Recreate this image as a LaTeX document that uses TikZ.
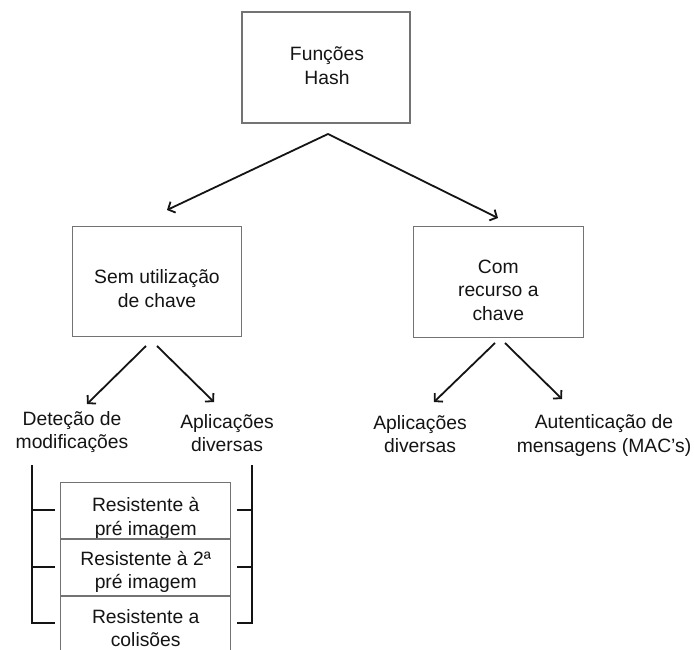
\documentclass[tikz,border=0pt]{standalone}
\usepackage{fontspec}
\setmainfont{Liberation Sans}
\usetikzlibrary{arrows.meta}
\begin{document}
\begin{tikzpicture}[x=1pt,y=-1pt,
  txt/.style={align=center, inner sep=0pt, text=black!92,
    font=\fontsize{19.3}{23.5}\selectfont},
  box/.style={draw=black!55, line width=1.1pt, inner sep=0pt},
  arr/.style={line width=1.8pt, draw=black!92,
    -{Straight Barb[length=5.5pt,width=12pt,line width=1.8pt]}},
  brk/.style={line width=1.8pt, draw=black!92}]
\clip (0,0) rectangle (694,650);
\fill[white] (0,0) rectangle (694,650);

% main boxes and their captions
\node[box, minimum width=168pt, minimum height=111pt] (hash) at (326,67.5) {};
\node[txt] (hashtxt) at (327,65.5) {Funções\\Hash};
\node[box, minimum width=169.4pt, minimum height=110pt] (sem) at (157,281.7) {};
\node[txt] (semtxt) at (157,288.7) {Sem utilização\\de chave};
\node[box, minimum width=170pt, minimum height=111pt] (com) at (498.3,282.2) {};
\node[txt] (comtxt) at (498.3,290.2) {Com\\recurso a\\chave};

% first split
\coordinate (split) at (328,134);
\coordinate (semtip) at (167,210);
\coordinate (comtip) at (498,218);
\draw[arr] (split) -- (semtip);
\draw[arr] (split) -- (comtip);

% leaves
\node[txt] (det)  at (72,432)  {Deteção de\\modificações};
\node[txt] (aplA) at (227,433) {Aplicações\\diversas};
\node[txt] (aplB) at (420,434) {Aplicações\\diversas};
\node[txt] (aut)  at (604,435.5) {Autenticação de\\mensagens (MAC’s)};

% second level splits
\coordinate (semL) at (146,346);
\coordinate (semR) at (157,346);
\coordinate (comL) at (495,343);
\coordinate (comR) at (505,343);
\coordinate (detTip)  at (87,404);
\coordinate (aplATip) at (214,402);
\coordinate (aplBTip) at (434,402);
\coordinate (autTip)  at (562,399);
\draw[arr] (semL) -- (detTip);
\draw[arr] (semR) -- (aplATip);
\draw[arr] (comL) -- (aplBTip);
\draw[arr] (comR) -- (autTip);

% properties stack
\node[box, minimum width=170pt, minimum height=56.3pt] (pre)  at (145.7,510.85) {};
\node[txt] (pretxt) at (145.7,518.5) {Resistente à\\pré imagem};
\node[box, minimum width=170pt, minimum height=57pt]   (pre2) at (145.7,567.5) {};
\node[txt] (pre2txt) at (145.7,572) {Resistente à 2ª\\pré imagem};
\node[box, minimum width=170pt, minimum height=63pt]   (col)  at (145.7,627.5) {};
\node[txt] (coltxt) at (145.7,628) {Resistente a\\colisões};

% side brackets
\draw[brk] (55,510) -- (31.7,510);
\draw[brk] (55,567) -- (31.7,567);
\draw[brk] (31.7,465) -- (31.7,623) -- (55,623);
\draw[brk] (237.3,510) -- (252.3,510);
\draw[brk] (237.3,567) -- (252.3,567);
\draw[brk] (252.3,465) -- (252.3,623) -- (237.3,623);
\end{tikzpicture}
\end{document}
